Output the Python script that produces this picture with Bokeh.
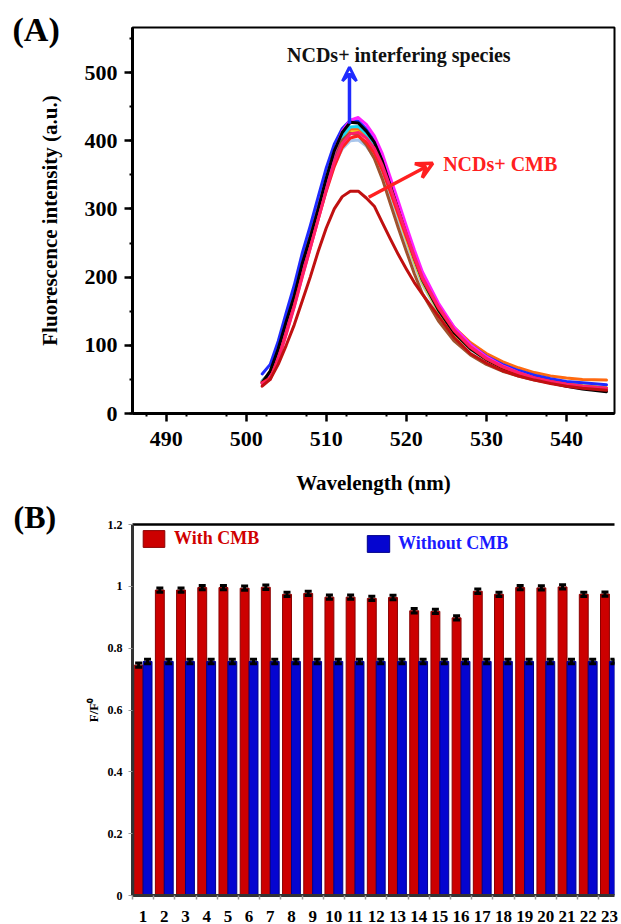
from bokeh.plotting import figure
from bokeh.layouts import column
from bokeh.models import (Arrow, VeeHead, Label, Whisker, TeeHead, ColumnDataSource,
                          FixedTicker, Legend, LegendItem, LinearAxis, Title)
from bokeh.embed import file_html
from bokeh.resources import INLINE

FONT = "Liberation Serif"

# ---------------- Panel A data ----------------
wl = [502, 503, 504, 505, 506, 507, 508, 509, 510, 511, 512, 513, 514, 515, 516, 517,
      518, 519, 520, 521, 522, 524, 526, 528, 530, 532, 534, 536, 538, 540, 542, 545]

light_blue = [44, 55, 85, 124, 162, 206, 246, 287, 328, 364, 388, 400, 401, 392, 376, 351,
              318, 284, 250, 218, 189, 148, 116, 94, 79, 67, 58, 51, 46, 42, 39, 36]
yellow = [47, 60, 93, 133, 172, 218, 257, 297, 338, 374, 400, 413, 414, 404, 386, 360,
          326, 291, 256, 222, 192, 150, 117, 95, 80, 68, 60, 53, 48, 44, 41, 38]
orange = [47, 58, 90, 130, 169, 214, 254, 296, 339, 377, 404, 417, 418, 408, 392, 366,
          332, 298, 263, 230, 200, 158, 126, 104, 88, 76, 67, 60, 55, 52, 50, 49]
cyan = [48, 60, 92, 132, 170, 216, 256, 298, 342, 380, 406, 420, 421, 410, 393, 366,
        331, 296, 260, 226, 195, 152, 119, 96, 80, 68, 59, 52, 47, 43, 40, 37]
brown = [46, 62, 96, 137, 176, 222, 262, 303, 343, 378, 401, 411, 408, 394, 374, 344,
         308, 272, 238, 205, 176, 136, 106, 86, 72, 62, 55, 49, 45, 41, 38, 35]
blue = [58, 72, 106, 148, 188, 235, 275, 318, 360, 395, 418, 430, 429, 417, 400, 372,
        337, 302, 266, 232, 201, 157, 124, 101, 84, 72, 63, 56, 51, 47, 45, 42]
magenta = [46, 56, 88, 128, 168, 212, 254, 298, 342, 383, 414, 430, 434, 424, 407, 381,
           346, 311, 275, 240, 208, 162, 126, 101, 83, 70, 60, 52, 46, 42, 39, 36]
black = [45, 62, 95, 135, 172, 220, 258, 300, 345, 385, 412, 427, 426, 414, 398, 370,
         334, 298, 262, 228, 196, 152, 118, 95, 79, 67, 58, 51, 45, 40, 36, 32]
red_bright = [45, 52, 80, 118, 158, 202, 243, 285, 326, 362, 390, 404, 407, 398, 382, 357,
              325, 292, 259, 227, 197, 155, 121, 97, 80, 68, 59, 52, 47, 43, 40, 37]
crimson = [44, 50, 78, 116, 156, 200, 242, 285, 328, 368, 396, 410, 412, 404, 389, 364,
           332, 298, 264, 231, 200, 157, 122, 98, 81, 69, 60, 52, 47, 43, 40, 37]
cmb = [40, 50, 72, 100, 130, 165, 200, 238, 272, 300, 318, 326, 326, 316, 304, 280,
       256, 233, 212, 192, 175, 143, 111, 88, 74, 63, 55, 49, 44, 40, 37, 34]

series_A = [
    (light_blue, "#a9c6ec"), (yellow, "#f2d21b"), (orange, "#ff6a10"), (cyan, "#19d6f0"),
    (brown, "#a0522d"), (blue, "#1f2bff"), (magenta, "#ff20ff"), (black, "#000000"),
    (red_bright, "#ff2020"), (crimson, "#ff1f6b"), (cmb, "#c01010"),
]

x_ticks_A = [490, 500, 510, 520, 530, 540]
y_ticks_A = [0, 100, 200, 300, 400, 500]

# annotation anchors (data units)
blue_arrow = (512.9, 425, 512.9, 508)
red_arrow = (515.3, 317, 523.3, 367)
txt_interf = (505.1, 525, "NCDs+ interfering species")
txt_cmb = (524.6, 366, "NCDs+ CMB")

# ---------------- Panel B data ----------------
cats = list(range(1, 24))
cat_labels = [str(c) for c in cats]
with_cmb = [0.745, 0.988, 0.988, 0.996, 0.996, 0.994, 0.997, 0.974, 0.977, 0.965, 0.965,
            0.961, 0.964, 0.921, 0.919, 0.898, 0.984, 0.974, 0.996, 0.995, 0.998, 0.974, 0.975]
without_cmb = [0.757, 0.757, 0.757, 0.757, 0.757, 0.757, 0.757, 0.757, 0.757, 0.757, 0.757,
               0.757, 0.757, 0.757, 0.757, 0.757, 0.757, 0.757, 0.757, 0.757, 0.757, 0.757, 0.757]
err_with = [0.007] * 23
err_without = [0.007] * 23
y_ticks_B = [0, 0.2, 0.4, 0.6, 0.8, 1.0, 1.2]
y_tick_labels_B = {0: "0", 0.2: "0.2", 0.4: "0.4", 0.6: "0.6", 0.8: "0.8", 1.0: "1", 1.2: "1.2"}

# ================= Figure A =================
pA = figure(width=621, height=500, x_range=(485.8, 546.0), y_range=(0, 566),
            output_backend="svg", toolbar_location=None,
            min_border_left=123, min_border_right=7, min_border_top=27, min_border_bottom=87)
pA.grid.visible = False
pA.outline_line_color = "black"
pA.outline_line_width = 2
pA.outline_line_alpha = 1

pA.title = Title(text="(A)", align="left", offset=-120, standoff=-40,
                 text_line_height=1.8,
                 text_font=FONT, text_font_style="bold", text_font_size="34px",
                 text_color="black")

for ys, col in series_A:
    pA.line(wl, ys, line_color=col, line_width=3, line_join="round", line_cap="round")

pA.xaxis.ticker = FixedTicker(ticks=x_ticks_A, minor_ticks=[487.5 + 5 * i for i in range(12)])
pA.yaxis.ticker = FixedTicker(ticks=y_ticks_A, minor_ticks=[50 * i for i in range(12)])
for ax in (pA.xaxis[0], pA.yaxis[0]):
    ax.axis_line_width = 3
    ax.axis_line_color = "black"
    ax.major_tick_line_width = 2.5
    ax.major_tick_out = 8
    ax.major_tick_in = 0
    ax.minor_tick_line_width = 2
    ax.minor_tick_out = 3
    ax.minor_tick_in = 0
    ax.major_label_text_font = FONT
    ax.major_label_text_font_style = "bold"
    ax.major_label_text_font_size = "22px"
    ax.major_label_text_color = "black"
    ax.axis_label_text_font = FONT
    ax.axis_label_text_font_style = "bold"
    ax.axis_label_text_font_size = "21px"
    ax.axis_label_text_color = "black"
pA.xaxis.axis_label = "Wavelength (nm)"
pA.yaxis.axis_label = "Fluorescence intensity (a.u.)"
pA.xaxis.major_label_standoff = 10
pA.xaxis.axis_label_standoff = 22
pA.yaxis.major_label_standoff = 7
pA.yaxis.axis_label_standoff = 20

pA.add_layout(Arrow(end=VeeHead(size=14, line_color="#1f2bff", line_width=3, fill_color=None),
                    x_start=blue_arrow[0], y_start=blue_arrow[1],
                    x_end=blue_arrow[2], y_end=blue_arrow[3],
                    line_color="#1f2bff", line_width=3.5))
pA.add_layout(Arrow(end=VeeHead(size=16, line_color="#ff2020", line_width=3.5, fill_color=None),
                    x_start=red_arrow[0], y_start=red_arrow[1],
                    x_end=red_arrow[2], y_end=red_arrow[3],
                    line_color="#ff2020", line_width=3.5))
pA.add_layout(Label(x=txt_interf[0], y=txt_interf[1], text=txt_interf[2],
                    text_font=FONT, text_font_style="bold", text_font_size="20px",
                    text_color="#111111", text_baseline="middle", text_align="left"))
pA.add_layout(Label(x=txt_cmb[0], y=txt_cmb[1], text=txt_cmb[2],
                    text_font=FONT, text_font_style="bold", text_font_size="20px",
                    text_color="#ff2020", text_baseline="middle", text_align="left"))

# ================= Figure B =================
srcB = ColumnDataSource(dict(
    xr=[c - 0.21 for c in cats], xb=[c + 0.21 for c in cats],
    w=with_cmb, wo=without_cmb,
    wu=[v + e for v, e in zip(with_cmb, err_with)], wl=[v - e for v, e in zip(with_cmb, err_with)],
    bu=[v + e for v, e in zip(without_cmb, err_without)], bl=[v - e for v, e in zip(without_cmb, err_without)],
))

pB = figure(width=621, height=424, x_range=(0.5, 23.24), y_range=(0, 1.2),
            output_backend="svg", toolbar_location=None,
            min_border_left=132, min_border_right=0, min_border_top=24, min_border_bottom=27)
pB.grid.visible = False
pB.outline_line_color = None

pB.title = Title(text="(B)", align="left", offset=-119, standoff=-20,
                 text_line_height=1.3,
                 text_font=FONT, text_font_style="bold", text_font_size="32px",
                 text_color="black")

r_red = pB.vbar(x="xr", top="w", width=0.42, bottom=0, source=srcB,
                fill_color="#cc0000", line_color="#8a0000", line_width=1)
r_blue = pB.vbar(x="xb", top="wo", width=0.42, bottom=0, source=srcB,
                 fill_color="#0505d0", line_color="#00008a", line_width=1)

for up, lo, xx in (("wu", "wl", "xr"), ("bu", "bl", "xb")):
    pB.add_layout(Whisker(base=xx, upper=up, lower=lo, source=srcB, level="overlay",
                          line_color="black", line_width=3,
                          upper_head=TeeHead(size=7, line_width=3, line_color="black"),
                          lower_head=TeeHead(size=7, line_width=3, line_color="black")))

pB.xaxis.ticker = FixedTicker(ticks=cats, minor_ticks=[c + 0.5 for c in range(0, 24)])
pB.xaxis.major_label_overrides = {c: l for c, l in zip(cats, cat_labels)}
pB.yaxis.ticker = FixedTicker(ticks=y_ticks_B, minor_ticks=[])
pB.yaxis.major_label_overrides = y_tick_labels_B

xa = pB.xaxis[0]
xa.axis_line_width = 3
xa.axis_line_color = "#333333"
xa.major_tick_line_color = None
xa.minor_tick_line_color = "#999999"
xa.minor_tick_line_width = 1.5
xa.minor_tick_out = 4
xa.minor_tick_in = 0
xa.major_label_text_font = FONT
xa.major_label_text_font_style = "bold"
xa.major_label_text_font_size = "17px"
xa.major_label_text_color = "black"
xa.major_label_standoff = 9

ya = pB.yaxis[0]
ya.axis_line_width = 3
ya.axis_line_color = "#333333"
ya.major_tick_line_color = "#999999"
ya.major_tick_out = 4
ya.major_tick_in = 0
ya.major_label_text_font = FONT
ya.major_label_text_font_style = "bold"
ya.major_label_text_font_size = "12px"
ya.major_label_text_color = "black"
ya.major_label_standoff = 6
ya.axis_label = "F/F⁰"
ya.axis_label_text_font = FONT
ya.axis_label_text_font_style = "bold"
ya.axis_label_text_font_size = "13px"
ya.axis_label_text_color = "black"
ya.axis_label_standoff = 4

top_axis = LinearAxis(ticker=FixedTicker(ticks=[]), axis_line_width=2.5, axis_line_color="black",
                      major_label_text_font_size="0px", major_tick_line_color=None,
                      minor_tick_line_color=None)
pB.add_layout(top_axis, "above")

leg1 = Legend(items=[LegendItem(label="With CMB", renderers=[r_red])], location=(8, 346),
              padding=0, margin=0, border_line_color=None, background_fill_alpha=0,
              glyph_width=27, glyph_height=21, label_height=21, label_standoff=7,
              label_text_font=FONT, label_text_font_style="bold", label_text_font_size="18px",
              label_text_color="#d00000")
leg2 = Legend(items=[LegendItem(label="Without CMB", renderers=[r_blue])], location=(232, 341),
              padding=0, margin=0, border_line_color=None, background_fill_alpha=0,
              glyph_width=28, glyph_height=21, label_height=21, label_standoff=6,
              label_text_font=FONT, label_text_font_style="bold", label_text_font_size="18px",
              label_text_color="#1a1aff")
pB.add_layout(leg1, "center")
pB.add_layout(leg2, "center")

layout = column(pA, pB, spacing=0)
open("out.html", "w").write(file_html(layout, INLINE))
